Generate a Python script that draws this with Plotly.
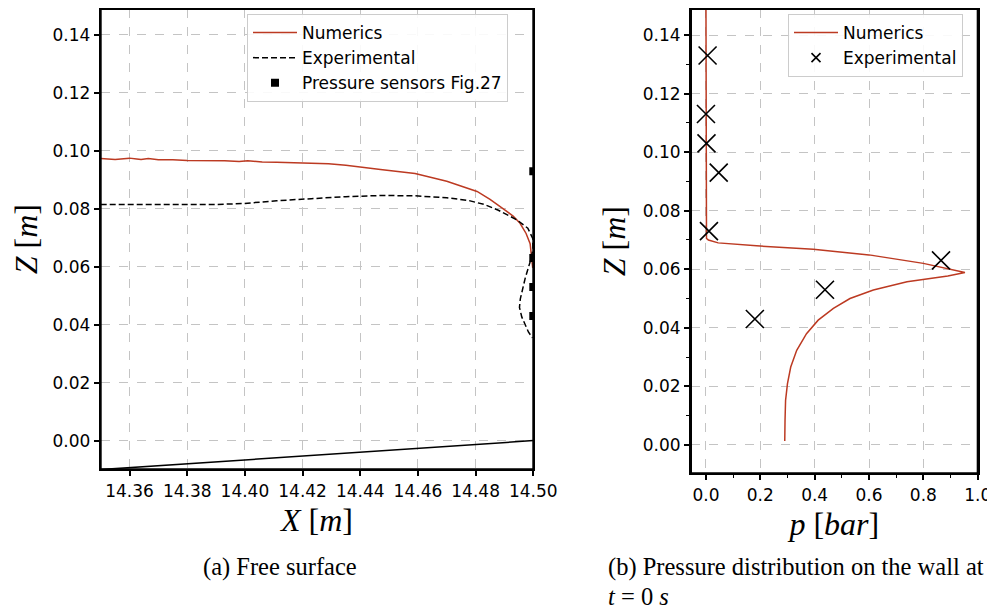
import plotly.graph_objects as go

# ---------------- Panel (a): free surface ----------------
x_numerics = [14.350, 14.352, 14.355, 14.357, 14.360, 14.3625, 14.364, 14.3665, 14.370,
              14.375, 14.380, 14.393, 14.398, 14.401, 14.406, 14.411, 14.420, 14.429,
              14.435, 14.441, 14.447, 14.459, 14.470, 14.4805, 14.485, 14.4896, 14.493,
              14.4954, 14.4975, 14.4989, 14.4992, 14.4995, 14.4998]
z_numerics = [0.0974, 0.0973, 0.0970, 0.0972, 0.0975, 0.0972, 0.0970, 0.0974, 0.0969,
              0.0969, 0.0967, 0.0966, 0.0963, 0.0966, 0.0962, 0.0961, 0.0959, 0.0956,
              0.0950, 0.0944, 0.0936, 0.0922, 0.0895, 0.0860, 0.0833, 0.0800, 0.0775,
              0.0750, 0.0715, 0.0680, 0.0648, 0.0620, 0.0596]

x_experimental = [14.350, 14.375, 14.390, 14.399, 14.411, 14.423, 14.435, 14.447, 14.459,
                  14.470, 14.4775, 14.483, 14.4879, 14.4943, 14.4981, 14.4998, 14.4999,
                  14.4989, 14.4972, 14.4955, 14.4952, 14.496, 14.4983, 14.4997]
z_experimental = [0.0815, 0.0815, 0.0815, 0.0818, 0.0828, 0.0835, 0.0842, 0.0846, 0.0845,
                  0.0838, 0.0829, 0.0815, 0.0795, 0.0762, 0.0733, 0.0698, 0.0660,
                  0.0617, 0.0561, 0.0489, 0.0460, 0.0427, 0.0375, 0.0355]

x_sensors = [14.50, 14.50, 14.50, 14.50]
z_sensors = [0.093, 0.063, 0.053, 0.043]

x_ground = [14.35, 14.50]
z_ground = [-0.01, 0.00]

x_ticks_a = [14.36, 14.38, 14.40, 14.42, 14.44, 14.46, 14.48, 14.50]
x_ticklabels_a = ["14.36", "14.38", "14.40", "14.42", "14.44", "14.46", "14.48", "14.50"]
z_ticks = [0.00, 0.02, 0.04, 0.06, 0.08, 0.10, 0.12, 0.14]
z_ticklabels = ["0.00", "0.02", "0.04", "0.06", "0.08", "0.10", "0.12", "0.14"]

# ---------------- Panel (b): pressure on wall ----------------
p_numerics = [0.000, 0.000, 0.002, 0.009, 0.045, 0.186, 0.395, 0.600, 0.800, 0.953,
              0.890, 0.740, 0.616, 0.530, 0.469, 0.413, 0.370, 0.334, 0.312, 0.300,
              0.293, 0.291, 0.290]
zp_numerics = [0.152, 0.100, 0.0705, 0.0700, 0.0690, 0.0680, 0.0668, 0.0649, 0.0620, 0.0589,
               0.0577, 0.0557, 0.0529, 0.0500, 0.0466, 0.0426, 0.0380, 0.0323, 0.0266, 0.0209,
               0.0152, 0.0083, 0.0013]

p_experimental = [0.006, 0.000, 0.002, 0.047, 0.011, 0.865, 0.438, 0.180]
zp_experimental = [0.133, 0.113, 0.103, 0.093, 0.073, 0.063, 0.053, 0.043]

p_ticks = [0.0, 0.2, 0.4, 0.6, 0.8, 1.0]
p_ticklabels = ["0.0", "0.2", "0.4", "0.6", "0.8", "1.0"]
p_minor = [0.1, 0.3, 0.5, 0.7, 0.9]
z_minor = [0.01, 0.03, 0.05, 0.07, 0.09, 0.11, 0.13]

# The page body adds an 8 px offset, so the figure is 8 px smaller each way.
W, H = 987, 603

RED = "#bc3a22"
TICKFONT = dict(family="DejaVu Sans", size=17, color="black")
TITLEFONT = dict(family="Liberation Serif", size=32, color="black")
CAPFONT = dict(family="Liberation Serif", size=24.5, color="black")
LEGFONT = dict(family="DejaVu Sans", size=17, color="black")

fig = go.Figure()

fig.add_trace(go.Scatter(x=x_numerics, y=z_numerics, mode="lines", name="Numerics",
                         line=dict(color=RED, width=1.5), xaxis="x", yaxis="y", legend="legend"))
fig.add_trace(go.Scatter(x=x_experimental, y=z_experimental, mode="lines", name="Experimental",
                         line=dict(color="black", width=1.5, dash="6px,3px"),
                         xaxis="x", yaxis="y", legend="legend"))
fig.add_trace(go.Scatter(x=x_sensors, y=z_sensors, mode="markers", name="Pressure sensors Fig.27",
                         marker=dict(symbol="square", size=8, color="black"),
                         xaxis="x", yaxis="y", legend="legend"))
fig.add_trace(go.Scatter(x=x_ground, y=z_ground, mode="lines", showlegend=False,
                         line=dict(color="black", width=1.5), xaxis="x", yaxis="y"))

fig.add_trace(go.Scatter(x=p_numerics, y=zp_numerics, mode="lines", name="Numerics",
                         line=dict(color=RED, width=1.5), xaxis="x2", yaxis="y2", legend="legend2"))
fig.add_trace(go.Scatter(x=p_experimental, y=zp_experimental, mode="markers", name="Experimental",
                         marker=dict(symbol="x-thin", size=18, color="black",
                                     line=dict(width=1.6, color="black")),
                         showlegend=False, legendgroup="exp_b",
                         xaxis="x2", yaxis="y2", legend="legend2"))
# legend entry with the small marker used by the reference legend
fig.add_trace(go.Scatter(x=[None], y=[None], mode="markers", name="Experimental",
                         marker=dict(symbol="x-thin", size=9, color="black",
                                     line=dict(width=1.6, color="black")),
                         legendgroup="exp_b", xaxis="x2", yaxis="y2", legend="legend2"))

axis_common = dict(showline=True, linecolor="black", linewidth=2, mirror=True,
                   ticks="outside", ticklen=5, tickwidth=1.5, tickcolor="black",
                   tickfont=TICKFONT, showgrid=True, gridcolor="#c4c4c4", griddash="dash",
                   gridwidth=1, zeroline=False, title_font=TITLEFONT, automargin=False)

legend_common = dict(xanchor="left", yanchor="top", bgcolor="rgba(255,255,255,0.9)",
                     bordercolor="#cccccc", borderwidth=1, font=LEGFONT,
                     itemwidth=44, tracegroupgap=0)

frame = dict(type="rect", x0=0, x1=1, y0=0, y1=1, line=dict(color="black", width=2),
             fillcolor="rgba(0,0,0,0)", layer="above")

fig.update_layout(
    width=W, height=H,
    margin=dict(l=0, r=0, t=0, b=0, autoexpand=False),
    paper_bgcolor="white", plot_bgcolor="white",
    xaxis=dict(domain=[92.7 / W, 525.3 / W], anchor="y", range=[14.35, 14.50],
               tickmode="array", tickvals=x_ticks_a, ticktext=x_ticklabels_a,
               title=dict(text="<i>X</i> [<i>m</i>]", standoff=9), **axis_common),
    yaxis=dict(domain=[1 - 461.3 / H, 1 - 1 / H], anchor="x", range=[-0.0099, 0.14897],
               tickmode="array", tickvals=z_ticks, ticktext=z_ticklabels,
               title=dict(text="<i>Z</i> [<i>m</i>]", standoff=8), **axis_common),
    xaxis2=dict(domain=[683 / W, 969.7 / W], anchor="y2", range=[-0.055, 1.0],
                tickmode="array", tickvals=p_ticks, ticktext=p_ticklabels,
                minor=dict(tickvals=p_minor, ticks="outside", ticklen=3, tickwidth=1.2,
                           tickcolor="black", showgrid=False),
                title=dict(text="<i>p</i> [<i>bar</i>]", standoff=9), **axis_common),
    yaxis2=dict(domain=[1 - 465.3 / H, 1 - 1 / H], anchor="x2", range=[-0.0097, 0.14888],
                tickmode="array", tickvals=z_ticks, ticktext=z_ticklabels,
                minor=dict(tickvals=z_minor, ticks="outside", ticklen=3, tickwidth=1.2,
                           tickcolor="black", showgrid=False),
                title=dict(text="<i>Z</i> [<i>m</i>]", standoff=8), **axis_common),
    legend=dict(x=239 / W, y=1 - 6 / H, **legend_common),
    legend2=dict(x=780 / W, y=1 - 6 / H, **legend_common),
    shapes=[
        dict(frame, xref="x domain", yref="y domain"),
        dict(frame, xref="x2 domain", yref="y2 domain"),
    ],
    annotations=[
        dict(text="(a) Free surface", x=272 / W, y=1 - 559 / H, xref="paper", yref="paper",
             xanchor="center", yanchor="middle", showarrow=False, borderpad=0, font=CAPFONT),
        dict(text="(b) Pressure distribution on the wall at", x=599 / W, y=1 - 559 / H,
             xref="paper", yref="paper", xanchor="left", yanchor="middle", showarrow=False,
             borderpad=0, font=CAPFONT),
        dict(text="<i>t</i> = 0 <i>s</i>", x=599 / W, y=1 - 588 / H,
             xref="paper", yref="paper", xanchor="left", yanchor="middle", showarrow=False,
             borderpad=0, font=CAPFONT),
    ],
)

fig.write_html("out.html")
